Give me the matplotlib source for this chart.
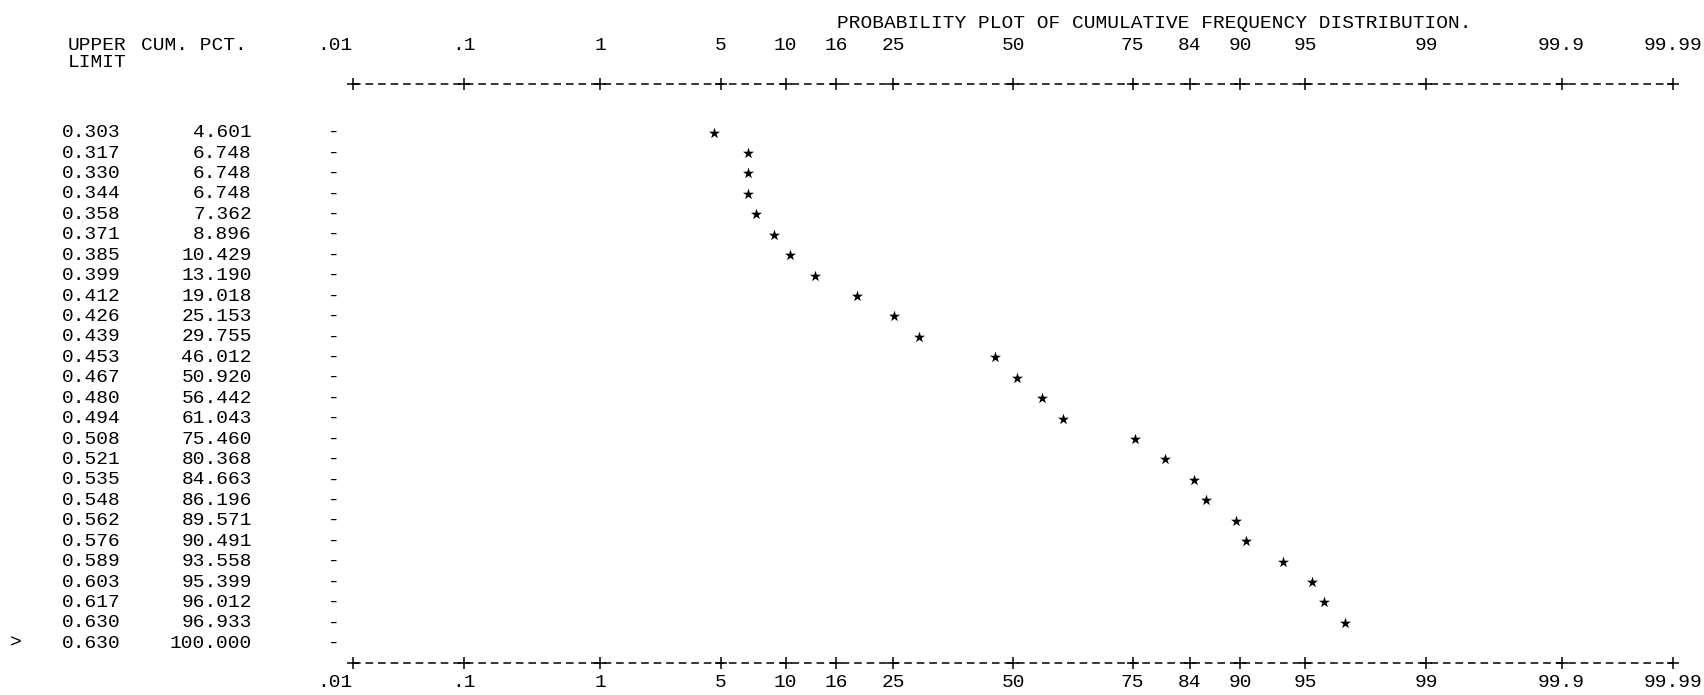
import matplotlib
matplotlib.use("Agg")
import matplotlib.pyplot as plt
from matplotlib.transforms import blended_transform_factory
from statistics import NormalDist

# line printer output: probability plot of cumulative frequency distribution
upper_limit = [0.303, 0.317, 0.330, 0.344, 0.358, 0.371, 0.385, 0.399, 0.412,
               0.426, 0.439, 0.453, 0.467, 0.480, 0.494, 0.508, 0.521, 0.535,
               0.548, 0.562, 0.576, 0.589, 0.603, 0.617, 0.630, 0.630]
cum_pct = [4.601, 6.748, 6.748, 6.748, 7.362, 8.896, 10.429, 13.190, 19.018,
           25.153, 29.755, 46.012, 50.920, 56.442, 61.043, 75.460, 80.368,
           84.663, 86.196, 89.571, 90.491, 93.558, 95.399, 96.012, 96.933,
           100.000]
tick_pct = [0.01, 0.1, 1, 5, 10, 16, 25, 50, 75, 84, 90, 95, 99, 99.9, 99.99]
tick_labels = [".01", ".1", "1", "5", "10", "16", "25", "50", "75", "84",
               "90", "95", "99", "99.9", "99.99"]
title = "PROBABILITY PLOT OF CUMULATIVE FREQUENCY DISTRIBUTION."

FONT = "Liberation Mono"
FS = 14
nd = NormalDist()


def probit(p):
    return nd.inv_cdf(p / 100.0)


fig = plt.figure(figsize=(17.04, 6.95), dpi=100)
fig.patch.set_facecolor("white")
ax = fig.add_axes([0, 0, 1, 1])
ax.set_xlim(-5.707, 3.893)
ax.set_ylim(27.53, -6.49)
ax.axis("off")

tr = blended_transform_factory(ax.transAxes, ax.transData)
txt = dict(fontfamily=FONT, fontsize=FS, color="black", va="center")

# header
ax.text(0.0396, -4.26, "UPPER", transform=tr, ha="left", **txt)
ax.text(0.0396, -3.41, "LIMIT", transform=tr, ha="left", **txt)
ax.text(0.0829, -4.26, "CUM. PCT.", transform=tr, ha="left", **txt)
ax.text(0.491, -5.32, title, transform=tr, ha="left", **txt)

# table rows
for i, (u, c) in enumerate(zip(upper_limit, cum_pct)):
    ax.text(0.0705, i, f"{u:.3f}", transform=tr, ha="right", **txt)
    ax.text(0.1478, i, f"{c:.3f}", transform=tr, ha="right", **txt)
    ax.text(0.1958, i, "-", transform=tr, ha="center", **txt)
ax.text(0.0095, len(upper_limit) - 1, ">", transform=tr, ha="center", **txt)

# probability axes top and bottom
tick_z = [probit(p) for p in tick_pct]
for yrow, lab_row in [(-2.39, -4.26), (25.98, 26.92)]:
    ax.plot([tick_z[0], tick_z[-1]], [yrow, yrow], color="black", lw=1.1,
            linestyle=(0, (5, 3.2)))
    ax.plot(tick_z, [yrow] * len(tick_z), linestyle="none", marker="+",
            markersize=8, markeredgewidth=1.1, color="black")
    for z, lab in zip(tick_z, tick_labels):
        ha = "right" if lab == ".01" else "center"
        ax.text(z, lab_row, lab, ha=ha, **txt)

# plotted points (100 % has no finite position)
pts = [(probit(c), i) for i, c in enumerate(cum_pct) if c < 100]
ax.scatter([p[0] for p in pts], [p[1] for p in pts], marker="*", s=70,
           color="black", linewidths=0)

fig.savefig("out.png", dpi=100, facecolor="white")
